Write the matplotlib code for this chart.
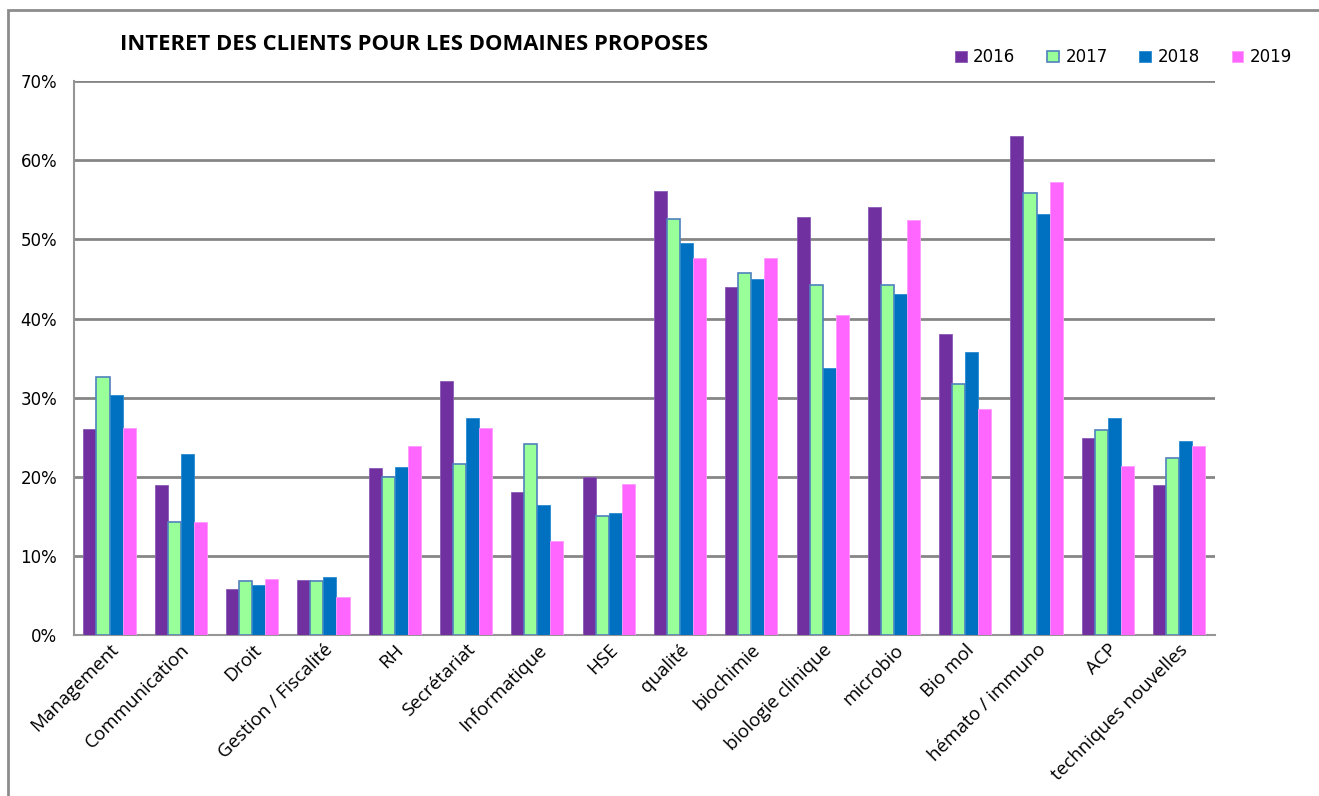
import numpy as np
import matplotlib.pyplot as plt
from matplotlib.patches import Rectangle
from matplotlib.ticker import PercentFormatter

# domains and yearly interest (%)
categories = ['Management', 'Communication', 'Droit', 'Gestion / Fiscalité', 'RH',
              'Secrétariat', 'Informatique', 'HSE', 'qualité', 'biochimie',
              'biologie clinique', 'microbio', 'Bio mol', 'hémato / immuno', 'ACP',
              'techniques nouvelles']
years = ['2016', '2017', '2018', '2019']
v2016 = [26.0, 19.0, 5.9, 7.0, 21.1, 32.1, 18.1, 20.0, 56.1, 44.0, 52.9, 54.1, 38.0, 63.1, 24.9, 19.0]
v2017 = [32.6, 14.3, 6.8, 6.8, 20.0, 21.6, 24.1, 15.0, 52.6, 45.8, 44.3, 44.3, 31.7, 55.9, 25.9, 22.4]
v2018 = [30.3, 22.9, 6.3, 7.3, 21.2, 27.5, 16.4, 15.5, 49.5, 45.0, 33.7, 43.1, 35.8, 53.2, 27.5, 24.6]
v2019 = [26.2, 14.3, 7.1, 4.8, 23.9, 26.2, 11.9, 19.1, 47.6, 47.6, 40.4, 52.4, 28.6, 57.2, 21.4, 23.9]
series = [v2016, v2017, v2018, v2019]
colors = ['#7030A0', '#99FF99', '#0070C0', '#FF66FF']
edges = ['#8B5BB5', '#4F81BD', '#2A8AD0', '#FF99FF']

fig = plt.figure(figsize=(13.19, 7.96), dpi=100)
ax = fig.add_axes([0.056, 0.202, 0.865, 0.696])

x = np.arange(len(categories))
w = 0.183
for i, (vals, c, ec) in enumerate(zip(series, colors, edges)):
    ax.bar(x + (i - 1.5) * w, vals, width=w, color=c, edgecolor=ec,
           linewidth=1.2 if i == 1 else 0.6, label=years[i], zorder=3)

ax.set_xlim(-0.5, len(categories) - 0.5)
ax.set_ylim(0, 70)
ax.set_yticks(np.arange(0, 71, 10))
ax.yaxis.set_major_formatter(PercentFormatter(decimals=0))
ax.grid(axis='y', color='#868686', linewidth=2, zorder=0)
for s in ['top', 'right']:
    ax.spines[s].set_visible(False)
for s in ['left', 'bottom']:
    ax.spines[s].set_color('#969696')
    ax.spines[s].set_linewidth(1.5)
ax.tick_params(axis='both', length=0)
ax.tick_params(axis='y', pad=12, labelsize=12)
for lab in ax.get_yticklabels():
    lab.set_family('DejaVu Sans')

ax.set_xticks(x)
ax.set_xticklabels(categories, rotation=45, ha='right', rotation_mode='anchor',
                   family='Open Sans', fontsize=13.5)
ax.tick_params(axis='x', pad=4)

fig.text(0.091, 0.944, 'INTERET DES CLIENTS POUR LES DOMAINES PROPOSES',
         fontsize=15.8, fontweight='bold', family='Open Sans', va='center')

ax.legend(loc='lower right', bbox_to_anchor=(1.081, 1.0), ncol=4, frameon=False,
          handlelength=0.7, handleheight=0.7, handletextpad=0.4, columnspacing=1.9,
          prop={'family': 'DejaVu Sans', 'size': 12})

# outer chart frame
fig.patches.append(Rectangle((8 / 1319, -0.1), 1.2, 1 - 10 / 796 + 0.1,
                             transform=fig.transFigure, fill=False,
                             edgecolor='#8C8C8C', linewidth=2))

fig.savefig('out.png', dpi=100)
